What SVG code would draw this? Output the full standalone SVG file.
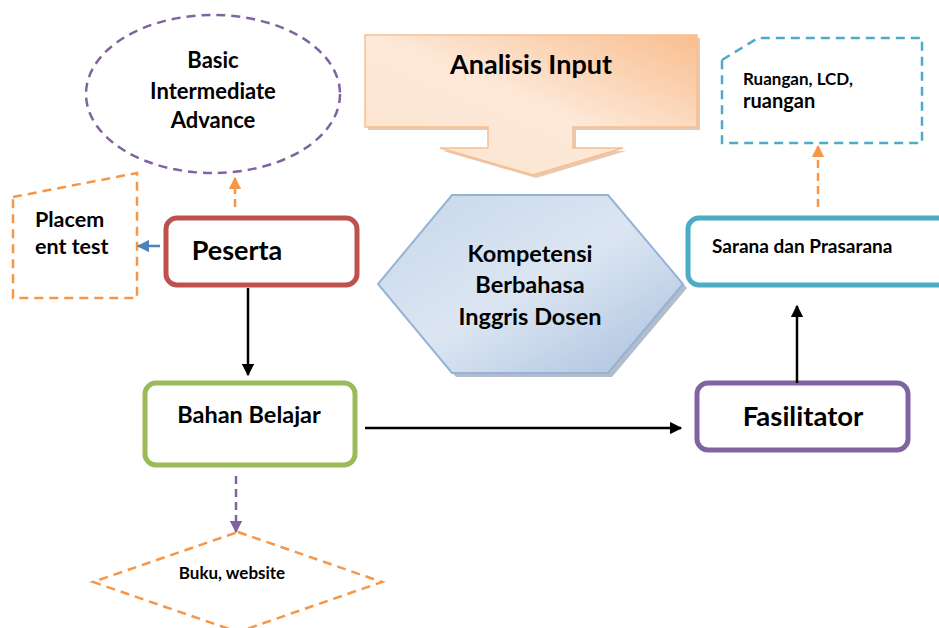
<svg xmlns="http://www.w3.org/2000/svg" width="939" height="628" viewBox="0 0 939 628">
<style>
text{font-family:Lato,"Open Sans","Liberation Sans",sans-serif;font-weight:bold;fill:#000}
.box{fill:#fff;stroke-width:5}
.dash{fill:#fff;stroke-width:2.5;stroke-dasharray:9,6}
.conn{fill:none;stroke-width:2.5}
</style>
<defs>
<linearGradient id="gOrange" x1="0" y1="1" x2="1" y2="0">
<stop offset="0" stop-color="#FCE3CE"/><stop offset="0.5" stop-color="#FDE9D9"/><stop offset="1" stop-color="#F9BE8F"/>
</linearGradient>
<linearGradient id="gBlue" x1="0" y1="0" x2="1" y2="1">
<stop offset="0" stop-color="#C6D6EA"/><stop offset="0.5" stop-color="#DCE6F2"/><stop offset="1" stop-color="#A9C0DE"/>
</linearGradient>
<marker id="mBlack" viewBox="0 0 10 10" refX="9" refY="5" markerWidth="5" markerHeight="5" orient="auto" markerUnits="strokeWidth"><path d="M0,0L10,5L0,10z" fill="#000"/></marker>
<marker id="mOrange" viewBox="0 0 10 10" refX="9" refY="5" markerWidth="5" markerHeight="5" orient="auto" markerUnits="strokeWidth"><path d="M0,0L10,5L0,10z" fill="#F79646"/></marker>
<marker id="mBlue" viewBox="0 0 10 10" refX="9" refY="5" markerWidth="5" markerHeight="5" orient="auto" markerUnits="strokeWidth"><path d="M0,0L10,5L0,10z" fill="#4F81BD"/></marker>
<marker id="mPurple" viewBox="0 0 10 10" refX="9" refY="5" markerWidth="5" markerHeight="5" orient="auto" markerUnits="strokeWidth"><path d="M0,0L10,5L0,10z" fill="#8064A2"/></marker>
</defs>
<rect width="939" height="628" fill="#fff"/>

<g id="levels">
<ellipse cx="213" cy="94" rx="127" ry="79" class="dash" stroke="#8064A2"/>
<text x="213" y="68" font-size="22" text-anchor="middle">Basic</text>
<text x="213" y="99" font-size="22" text-anchor="middle">Intermediate</text>
<text x="213" y="128" font-size="22" text-anchor="middle">Advance</text>
</g>

<g id="placement">
<path d="M13,197 L137,173 L137,298 L13,298 Z" class="dash" stroke="#F79646"/>
<text x="35" y="227" font-size="21.5">Placem</text>
<text x="35" y="254" font-size="21.5">ent test</text>
</g>

<g id="analisis">
<path d="M368,38 L700,38 L700,130 L576,130 L576,151 L626,151 L536,178 L443,151 L491,151 L491,130 L368,130 Z" fill="#D9A37C" opacity="0.6"/>
<path d="M365,35 L697,35 L697,127 L573,127 L573,148 L623,148 L533,175 L440,148 L488,148 L488,127 L365,127 Z" fill="url(#gOrange)" stroke="#F9BE8F" stroke-width="1.5"/>
<text x="531" y="74" font-size="27" text-anchor="middle">Analisis Input</text>
</g>

<g id="kompetensi">
<path d="M456,199 L612,199 L687,288 L612,377 L456,377 L382,288 Z" fill="#7F8FA6" opacity="0.6"/>
<path d="M452,195 L608,195 L683,284 L608,373 L452,373 L378,284 Z" fill="url(#gBlue)" stroke="#95B3D7" stroke-width="2"/>
<text x="530" y="262" font-size="23.5" text-anchor="middle">Kompetensi</text>
<text x="530" y="293" font-size="23.5" text-anchor="middle">Berbahasa</text>
<text x="530" y="325" font-size="23.5" text-anchor="middle">Inggris Dosen</text>
</g>

<g id="ruangan">
<path d="M722,60 L758,38 L922,38 L922,143 L722,143 Z" class="dash" stroke="#4BACC6"/>
<text x="743" y="85" font-size="17">Ruangan, LCD,</text>
<text x="743" y="108" font-size="20">ruangan</text>
</g>

<g id="peserta">
<rect x="166" y="218" width="191" height="67" rx="11" class="box" stroke="#C0504D"/>
<text x="237" y="260" font-size="27" text-anchor="middle">Peserta</text>
</g>

<g id="sarana">
<rect x="688" y="218" width="270" height="67" rx="11" class="box" stroke="#4BACC6"/>
<text x="712" y="253" font-size="19">Sarana dan Prasarana</text>
</g>

<g id="bahan">
<rect x="145" y="383" width="210" height="82" rx="11" class="box" stroke="#9BBB59"/>
<text x="249" y="423" font-size="23.5" text-anchor="middle">Bahan Belajar</text>
</g>

<g id="fasilitator">
<rect x="697" y="383" width="211" height="67" rx="11" class="box" stroke="#8064A2"/>
<text x="803" y="426" font-size="27.5" text-anchor="middle">Fasilitator</text>
</g>

<g id="buku">
<path d="M238,532 L382,582 L238,632 L93,582 Z" class="dash" stroke="#F79646"/>
<text x="232" y="579" font-size="17" text-anchor="middle">Buku, website</text>
</g>

<g id="connectors">
<line x1="248" y1="288" x2="248" y2="375" class="conn" stroke="#000" marker-end="url(#mBlack)"/>
<line x1="365" y1="428" x2="681" y2="428" class="conn" stroke="#000" marker-end="url(#mBlack)"/>
<line x1="797" y1="383" x2="797" y2="306" class="conn" stroke="#000" marker-end="url(#mBlack)"/>
<line x1="235" y1="207" x2="235" y2="178" class="conn" stroke="#F79646" stroke-dasharray="8,5" marker-end="url(#mOrange)"/>
<line x1="818" y1="207" x2="818" y2="146" class="conn" stroke="#F79646" stroke-dasharray="8,5" marker-end="url(#mOrange)"/>
<line x1="160" y1="246" x2="138" y2="246" class="conn" stroke="#4F81BD" marker-end="url(#mBlue)"/>
<line x1="236" y1="476" x2="236" y2="532" class="conn" stroke="#8064A2" stroke-dasharray="8,5" marker-end="url(#mPurple)"/>
</g>
</svg>
